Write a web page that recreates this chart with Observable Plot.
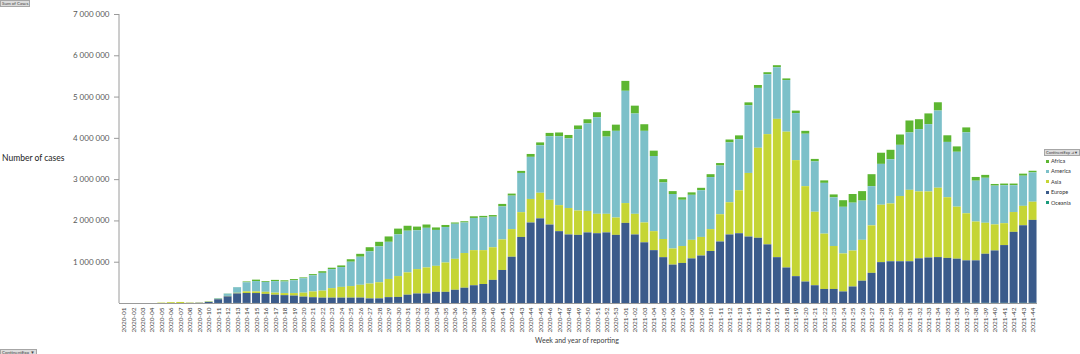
<!DOCTYPE html>
<html>
<head>
<meta charset="utf-8">
<script src="https://cdn.jsdelivr.net/npm/d3@7"></script>
<script src="https://cdn.jsdelivr.net/npm/@observablehq/plot@0.6"></script>
<style>
  html, body { margin: 0; padding: 0; background: #fff; }
  #wrap { position: relative; width: 1080px; height: 354px; overflow: hidden; font-family: Lato, "Open Sans", sans-serif; }
  .btn { position: absolute; background: #dcdcdc; border: 0.5px solid #a6a6a6; color: #444; font-size: 4.5px; line-height: 5px; padding: 0 1px; white-space: nowrap; }
  .lab { position: absolute; white-space: nowrap; }
  .leg { position: absolute; left: 1046px; font-size: 5.5px; color: #333; line-height: 6px; white-space: nowrap; }
  .leg span { display: inline-block; width: 3px; height: 3px; margin-right: 2px; vertical-align: 0.5px; }
</style>
</head>
<body>
<div id="wrap"></div>
<script>
// Week categories
const weeks = [
  "2020-01","2020-02","2020-03","2020-04","2020-05","2020-06","2020-07","2020-08","2020-09","2020-10",
  "2020-11","2020-12","2020-13","2020-14","2020-15","2020-16","2020-17","2020-18","2020-19","2020-20",
  "2020-21","2020-22","2020-23","2020-24","2020-25","2020-26","2020-27","2020-28","2020-29","2020-30",
  "2020-31","2020-32","2020-33","2020-34","2020-35","2020-36","2020-37","2020-38","2020-39","2020-40",
  "2020-41","2020-42","2020-43","2020-44","2020-45","2020-46","2020-47","2020-48","2020-49","2020-50",
  "2020-51","2020-52","2020-53",
  "2021-01","2021-02","2021-03","2021-04","2021-05","2021-06","2021-07","2021-08","2021-09","2021-10",
  "2021-11","2021-12","2021-13","2021-14","2021-15","2021-16","2021-17","2021-18","2021-19","2021-20",
  "2021-21","2021-22","2021-23","2021-24","2021-25","2021-26","2021-27","2021-28","2021-29","2021-30",
  "2021-31","2021-32","2021-33","2021-34","2021-35","2021-36","2021-37","2021-38","2021-39","2021-40",
  "2021-41","2021-42","2021-43","2021-44"
];
// Weekly cases per continent, in millions
const europe = [
  0,0,0,0,0,0,0,0.002,0.005,0.025,
  0.09,0.16,0.23,0.24,0.24,0.22,0.20,0.19,0.18,0.155,
  0.14,0.13,0.13,0.13,0.13,0.13,0.11,0.11,0.14,0.145,
  0.20,0.23,0.23,0.27,0.27,0.32,0.37,0.43,0.46,0.56,
  0.80,1.12,1.60,1.95,2.05,1.90,1.74,1.66,1.65,1.71,
  1.69,1.71,1.65,
  1.94,1.66,1.47,1.28,1.11,0.93,0.97,1.08,1.15,1.26,
  1.49,1.66,1.69,1.61,1.58,1.42,1.11,0.86,0.65,0.52,
  0.43,0.34,0.34,0.28,0.40,0.54,0.73,0.99,1.01,1.01,
  1.01,1.08,1.10,1.11,1.09,1.07,1.03,1.03,1.19,1.27,
  1.40,1.72,1.88,2.01
];
const asia = [
  0,0,0,0,0.01,0.02,0.025,0.01,0.008,0.01,
  0.01,0.01,0.015,0.04,0.04,0.05,0.05,0.05,0.06,0.095,
  0.14,0.17,0.23,0.26,0.28,0.31,0.36,0.39,0.44,0.505,
  0.54,0.59,0.63,0.63,0.71,0.75,0.84,0.85,0.82,0.79,
  0.74,0.67,0.60,0.57,0.62,0.60,0.63,0.64,0.59,0.52,
  0.47,0.45,0.42,
  0.48,0.50,0.48,0.46,0.44,0.39,0.41,0.45,0.45,0.53,
  0.66,0.78,1.04,1.54,2.18,2.67,3.35,3.29,2.81,2.31,
  1.78,1.34,1.04,0.92,0.87,0.99,1.15,1.39,1.40,1.58,
  1.73,1.62,1.60,1.68,1.47,1.26,1.14,0.94,0.75,0.63,
  0.53,0.48,0.47,0.44
];
const america = [
  0,0,0,0,0,0,0,0,0.001,0.012,
  0.018,0.055,0.135,0.22,0.25,0.24,0.28,0.28,0.31,0.35,
  0.39,0.43,0.46,0.48,0.59,0.68,0.78,0.87,0.90,1.01,
  1.01,0.94,0.96,0.87,0.86,0.85,0.74,0.78,0.79,0.74,
  0.80,0.81,0.95,1.02,1.15,1.54,1.67,1.69,1.97,2.12,
  2.34,1.87,2.10,
  2.72,2.43,2.22,1.82,1.37,1.32,1.12,1.09,1.13,1.26,
  1.18,1.45,1.24,1.64,1.45,1.45,1.25,1.25,1.14,1.27,
  1.22,1.23,1.18,1.13,1.16,0.95,0.95,0.99,1.07,1.24,
  1.39,1.51,1.63,1.87,1.34,1.33,1.96,0.99,1.09,0.94,
  0.92,0.65,0.73,0.71
];
const africa = [
  0,0,0,0,0,0,0,0,0,0.001,
  0.002,0.005,0.005,0.02,0.035,0.02,0.03,0.03,0.03,0.02,
  0.03,0.04,0.035,0.04,0.06,0.07,0.10,0.11,0.13,0.14,
  0.12,0.09,0.08,0.06,0.05,0.03,0.03,0.04,0.04,0.04,
  0.06,0.05,0.05,0.07,0.07,0.08,0.09,0.08,0.09,0.10,
  0.12,0.14,0.15,
  0.24,0.19,0.16,0.13,0.08,0.07,0.06,0.06,0.06,0.07,
  0.06,0.07,0.09,0.07,0.07,0.05,0.05,0.04,0.06,0.07,
  0.06,0.06,0.07,0.16,0.21,0.23,0.29,0.27,0.23,0.25,
  0.29,0.24,0.26,0.20,0.16,0.13,0.12,0.09,0.07,0.04,
  0.04,0.04,0.05,0.04
];
const oceania = [
  0,0,0,0,0,0,0,0,0,0,
  0.001,0.001,0.002,0.002,0.001,0.001,0,0,0,0,
  0,0,0,0,0,0.001,0.001,0.002,0.002,0.002,
  0.001,0.001,0.001,0,0,0,0,0,0,0,
  0,0,0,0,0,0,0,0,0,0,
  0,0,0,
  0,0,0,0,0,0,0,0,0,0,
  0,0,0,0,0,0,0,0,0,0,
  0,0,0,0,0,0,0,0,0.001,0.001,
  0.001,0.002,0.002,0.002,0.002,0.003,0.003,0.003,0.003,0.003,
  0.003,0.003,0.003,0.003
];
const continents = ["Africa", "America", "Asia", "Europe", "Oceania"];
const colors = ["#5db631", "#7cc0c9", "#c5d535", "#3b5b8b", "#1b9b7c"];
const yTicks = [1000000, 2000000, 3000000, 4000000, 5000000, 6000000, 7000000];

const series = {Africa: africa, America: america, Asia: asia, Europe: europe, Oceania: oceania};
const rows = [];
for (const c of continents) {
  series[c].forEach((v, i) => rows.push({week: weeks[i], continent: c, cases: Math.round(v * 1e6)}));
}

const fmt = d => d3.format(",")(d).replace(/,/g, " ");

const yAxisLine = (index, scales, values, dims) => {
  const l = document.createElementNS("http://www.w3.org/2000/svg", "line");
  l.setAttribute("x1", dims.marginLeft);
  l.setAttribute("x2", dims.marginLeft);
  l.setAttribute("y1", dims.marginTop);
  l.setAttribute("y2", dims.height - dims.marginBottom);
  l.setAttribute("stroke", "#9a9a9a");
  l.setAttribute("stroke-width", 1);
  return l;
};

const chart = Plot.plot({
  width: 1080,
  height: 354,
  marginLeft: 119,
  marginRight: 43,
  marginTop: 14,
  marginBottom: 51,
  style: {fontFamily: "Lato, 'Open Sans', sans-serif", background: "white"},
  x: {domain: weeks, paddingInner: 0.16, paddingOuter: 0.05, label: null},
  y: {domain: [0, 7000000], label: null},
  color: {domain: continents, range: colors},
  marks: [
    Plot.barY(rows, {
      x: "week", y: "cases", fill: "continent",
      order: ["Oceania", "Europe", "Asia", "America", "Africa"]
    }),
    Plot.ruleY([0], {stroke: "#9a9a9a"}),
    yAxisLine,
    Plot.axisY({ticks: yTicks, tickFormat: fmt, tickSize: 5, tickPadding: 5, fontSize: 8, fill: "#595959", stroke: "#9a9a9a", label: null}),
    Plot.axisX({tickRotate: -90, tickSize: 0, tickPadding: 4, fontSize: 6.5, fill: "#404040", label: null})
  ]
});

const wrap = document.getElementById("wrap");
wrap.appendChild(chart);

const add = (html) => wrap.insertAdjacentHTML("beforeend", html);
add(`<div class="btn" style="left:0;top:0;">Sum of Cases</div>`);
add(`<div class="btn" style="left:0;top:349px;">ContinentExp ▼</div>`);
add(`<div class="lab" style="left:2px;top:153px;font-size:8.5px;color:#222;">Number of cases</div>`);
add(`<div class="lab" style="left:577px;top:336px;transform:translateX(-50%);font-size:7px;color:#404040;">Week and year of reporting</div>`);
add(`<div class="btn" style="left:1044px;top:149px;font-size:4px;">ContinentExp ⊿▼</div>`);
continents.forEach((c, i) => {
  add(`<div class="leg" style="top:${158 + i * 10.4}px;"><span style="background:${colors[i]}"></span>${c}</div>`);
});
</script>
</body>
</html>
